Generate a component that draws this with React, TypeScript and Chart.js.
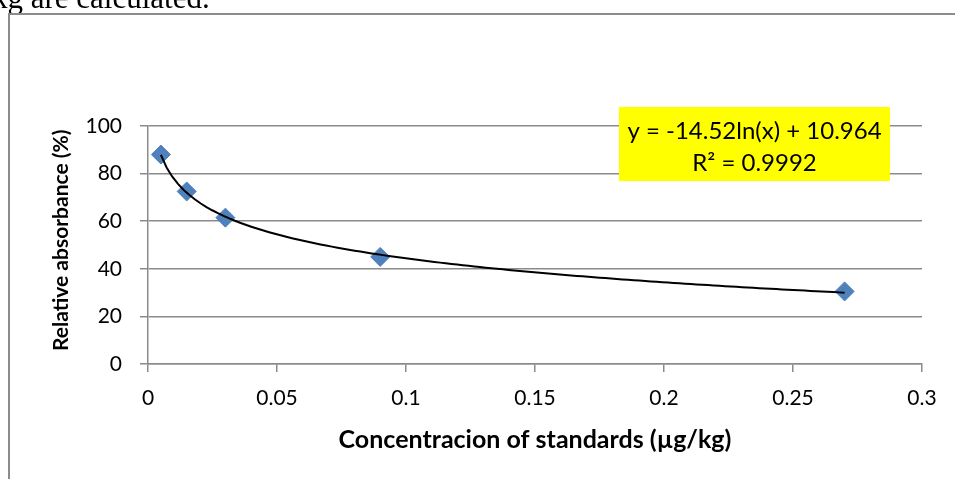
import React, { useEffect, useRef } from "react";
import { Chart, registerables } from "chart.js";

Chart.register(...registerables);

// Data
const concentrations = [0.005, 0.015, 0.03, 0.09, 0.27];
const absorbance = [88, 72.5, 61.5, 45, 30.5];

// Logarithmic trendline shown on the chart: y = a ln(x) + b
const TREND_A = -14.52;
const TREND_B = 10.964;
const TREND_R2 = "0.9992";
const TREND_START = 0.005;
const TREND_END = 0.27;
const TREND_SAMPLES = 120;

const xTickLabels = ["0", "0.05", "0.1", "0.15", "0.2", "0.25", "0.3"];
const yTickLabels = ["0", "20", "40", "60", "80", "100"];

const X_TITLE = "Concentracion of standards (µg/kg)";
const Y_TITLE = "Relative absorbance (%)";
const PAGE_TEXT = "kg are calculated.";

const FONT = "Lato";
const GRID = "#8b8b8b";

function trendPoints() {
  const pts: { x: number; y: number }[] = [];
  for (let i = 0; i <= TREND_SAMPLES; i++) {
    const x = TREND_START + ((TREND_END - TREND_START) * i) / TREND_SAMPLES;
    pts.push({ x, y: TREND_A * Math.log(x) + TREND_B });
  }
  return pts;
}

const decorPlugin = {
  id: "decor",
  beforeDraw(chart: any) {
    const ctx = chart.ctx;
    ctx.save();
    // surrounding document text
    ctx.fillStyle = "#000";
    ctx.font = "31px 'Liberation Serif', 'Times New Roman', serif";
    ctx.textBaseline = "alphabetic";
    ctx.textAlign = "left";
    ctx.fillText(PAGE_TEXT, -8, 7.5);
    // chart frame
    ctx.strokeStyle = "#8c8c8c";
    ctx.lineWidth = 2;
    ctx.beginPath();
    ctx.moveTo(9, chart.height);
    ctx.lineTo(9, 14);
    ctx.lineTo(chart.width, 14);
    ctx.stroke();
    ctx.restore();
  },
  afterDraw(chart: any) {
    const { ctx, chartArea } = chart;
    const w = chartArea.right - chartArea.left;
    const h = chartArea.bottom - chartArea.top;
    // trendline label box
    const left = chartArea.left + w * 0.6085;
    const right = chartArea.left + w * 0.9587;
    const top = chartArea.top - 19;
    const bottom = chartArea.top + 55;
    ctx.save();
    ctx.fillStyle = "#ffff00";
    ctx.fillRect(left, top, right - left, bottom - top);
    ctx.fillStyle = "#000";
    ctx.font = `24px ${FONT}`;
    ctx.textAlign = "center";
    ctx.textBaseline = "middle";
    const cx = (left + right) / 2;
    const eq = `y = ${TREND_A}ln(x) + ${TREND_B}`;
    ctx.fillText(eq, cx, top + 24);
    ctx.fillText(`R² = ${TREND_R2}`, cx, top + 56);
    // y axis title
    ctx.translate(61, chartArea.top + h * 0.48);
    ctx.rotate(-Math.PI / 2);
    ctx.font = `bold 21px ${FONT}`;
    ctx.fillText(Y_TITLE, 0, 0);
    ctx.restore();
  },
};

export default function App() {
  const ref = useRef<HTMLCanvasElement>(null);

  useEffect(() => {
    if (!ref.current) return;
    const chart = new Chart(ref.current, {
      type: "scatter",
      data: {
        datasets: [
          {
            label: "Trend",
            data: trendPoints(),
            showLine: true,
            borderColor: "#000",
            borderWidth: 2,
            pointRadius: 0,
            tension: 0,
            order: 0,
          } as any,
          {
            label: "Standards",
            data: concentrations.map((x, i) => ({ x, y: absorbance[i] })),
            pointStyle: "rectRot",
            pointRadius: 9.5,
            backgroundColor: "#4f81bd",
            borderColor: "#4a7ebb",
            borderWidth: 1,
            order: 1,
          },
        ],
      },
      options: {
        animation: false,
        responsive: false,
        devicePixelRatio: 1,
        layout: { padding: { left: 0, right: 33, top: 126, bottom: 0 } },
        plugins: {
          legend: { display: false },
          tooltip: { enabled: false },
        },
        scales: {
          x: {
            type: "linear",
            min: 0,
            max: 0.3,
            afterBuildTicks: (scale: any) => {
              scale.ticks = xTickLabels.map((t) => ({ value: parseFloat(t) }));
            },
            ticks: {
              callback: (v: any) => {
                const i = xTickLabels.findIndex((t) => Math.abs(parseFloat(t) - v) < 1e-9);
                return i >= 0 ? xTickLabels[i] : "";
              },
              color: "#000",
              font: { family: FONT, size: 21 },
              padding: 14,
              maxRotation: 0,
            },
            grid: {
              drawOnChartArea: false,
              drawTicks: true,
              tickLength: 8,
              color: GRID,
              lineWidth: 1.5,
            },
            border: { display: true, color: GRID, width: 1.5 },
            title: {
              display: true,
              text: X_TITLE,
              color: "#000",
              font: { family: FONT, size: 25, weight: "bold" },
              padding: { top: 0, bottom: 24 },
            },
            afterFit: (scale: any) => {
              scale.height = 115;
            },
          },
          y: {
            type: "linear",
            min: 0,
            max: 100,
            afterBuildTicks: (scale: any) => {
              scale.ticks = yTickLabels.map((t) => ({ value: parseFloat(t) }));
            },
            ticks: {
              callback: (v: any) => String(v),
              color: "#000",
              font: { family: FONT, size: 21 },
              padding: 18,
            },
            grid: {
              drawOnChartArea: true,
              drawTicks: true,
              tickLength: 8,
              color: GRID,
              lineWidth: 1.5,
            },
            border: { display: true, color: GRID, width: 1.5 },
            title: { display: false },
            afterFit: (scale: any) => {
              scale.width = 148;
            },
          },
        },
      },
      plugins: [decorPlugin],
    });
    return () => chart.destroy();
  }, []);

  return (
    <div style={{ position: "absolute", left: 0, top: 0, width: 955, height: 479, background: "#fff" }}>
      <canvas ref={ref} width={955} height={479} style={{ display: "block", width: 955, height: 479 }} />
    </div>
  );
}
